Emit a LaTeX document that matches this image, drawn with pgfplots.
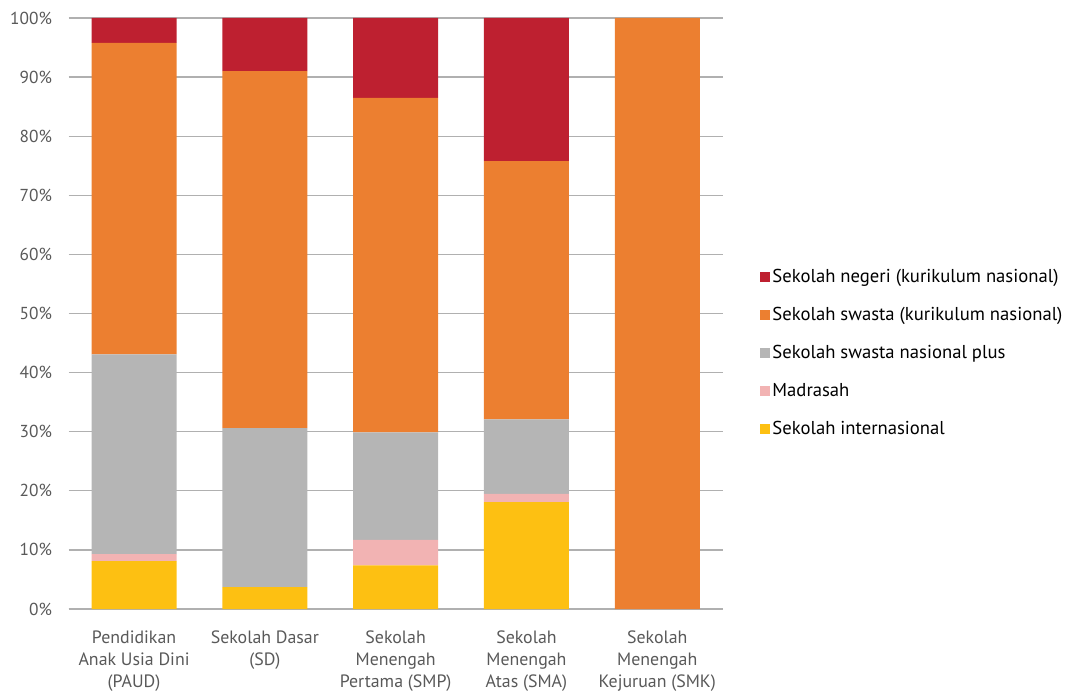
\documentclass[border=0pt]{standalone}
\usepackage{pgfplots}
\pgfplotsset{compat=1.18}
\usepackage{fontspec}
\setmainfont{PT Sans}
\definecolor{cred}{HTML}{BE2030}
\definecolor{corange}{HTML}{EC7F30}
\definecolor{cgray}{HTML}{B5B5B5}
\definecolor{cpink}{HTML}{F2B3B3}
\definecolor{cyellow}{HTML}{FDC012}
\definecolor{ctext}{HTML}{595959}
\definecolor{cgrid}{HTML}{B0B0B0}
\pgfplotstableread{
x yellow pink gray orange red
0 8.1 1.2 33.8 52.7 4.2
1 3.7 0.0 26.9 60.4 9.0
2 7.4 4.3 18.2 56.6 13.5
3 18.1 1.4 12.6 43.7 24.2
4 0.0 0.0 0.0 100 0.0
}\data
\begin{document}
\begin{tikzpicture}
\path[use as bounding box] (0pt,0pt) rectangle (802.5pt,519.75pt);
\begin{axis}[
  at={(51.5pt,63pt)}, anchor=south west,
  scale only axis, width=490.5pt, height=443.25pt,
  ybar stacked, bar width=63.75pt,
  xmin=-0.5, xmax=4.5, ymin=0, ymax=100,
  xtick=data,
  xticklabels={{Pendidikan\\Anak Usia Dini\\(PAUD)},{Sekolah Dasar\\(SD)},{Sekolah\\Menengah\\Pertama (SMP)},{Sekolah\\Menengah\\Atas (SMA)},{Sekolah\\Menengah\\Kejuruan (SMK)}},
  xticklabel style={align=center, font=\fontsize{13.4}{16.5}\selectfont, text=ctext, anchor=north, yshift=-12.5pt},
  major x tick style={draw=none},
  ytick={0,10,...,100},
  yticklabel={\pgfmathprintnumber{\tick}\%},
  yticklabel style={font=\fontsize{13}{15}\selectfont, text=ctext, xshift=-9pt},
  /pgf/number format/assume math mode=true,
  ymajorgrids, grid style={draw=cgrid, line width=0.9pt},
  major y tick style={draw=none},
  x axis line style={draw=cgrid, line width=1.2pt},
  separate axis lines,
  axis x line*=bottom,
  axis y line*=left,
  y axis line style={draw=none},
  reverse legend,
  legend style={at={(1.05,0.433)}, anchor=west, draw=none, fill=none,
    font=\fontsize{14}{16}\selectfont, row sep=13pt, cells={anchor=west}},
  legend image code/.code={\fill[#1] (0pt,-3.8pt) rectangle (7.6pt,3.8pt);},
  clip=false,
]
\addplot[fill=cyellow, draw=none] table[x=x,y=yellow]{\data};
\addplot[fill=cpink, draw=none] table[x=x,y=pink]{\data};
\addplot[fill=cgray, draw=none] table[x=x,y=gray]{\data};
\addplot[fill=corange, draw=none] table[x=x,y=orange]{\data};
\addplot[fill=cred, draw=none] table[x=x,y=red]{\data};
\legend{Sekolah internasional, Madrasah, Sekolah swasta nasional plus, Sekolah swasta (kurikulum nasional), Sekolah negeri (kurikulum nasional)}
\end{axis}
\end{tikzpicture}
\end{document}
